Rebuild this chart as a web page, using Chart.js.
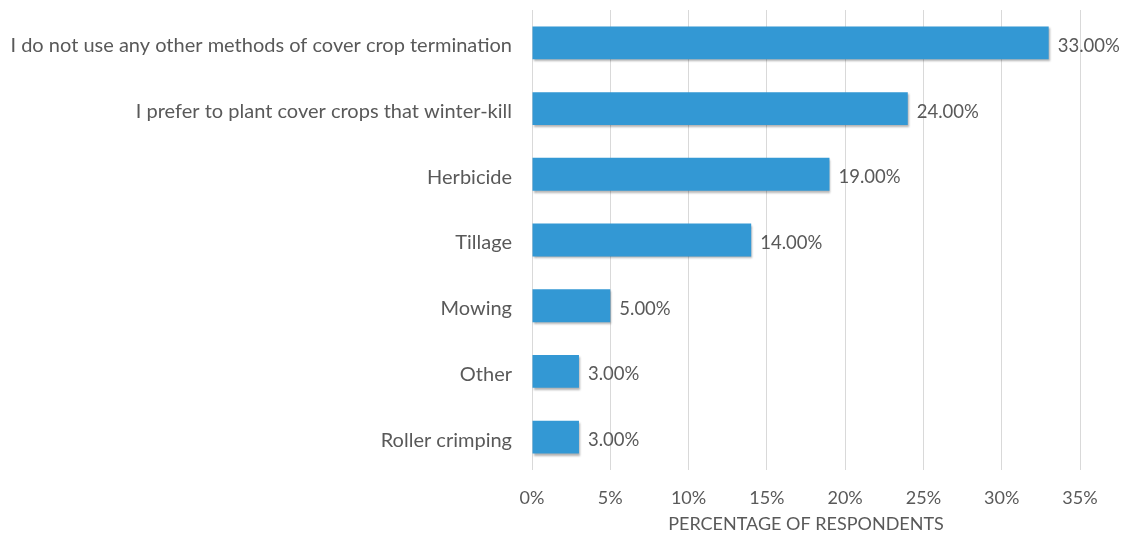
<!DOCTYPE html>
<html>
<head>
<meta charset="utf-8">
<script src="https://cdn.jsdelivr.net/npm/chart.js@4"></script>
<style>
  body { margin: 0; background: #fff; }
  #wrap { width: 1127px; height: 541px; }
</style>
</head>
<body>
<div id="wrap"><canvas id="myCanvas"></canvas></div>
<script>
let categories = [
    "I do not use any other methods of cover crop termination",
    "I prefer to plant cover crops that winter-kill",
    "Herbicide",
    "Tillage",
    "Mowing",
    "Other",
    "Roller crimping"
]
let values = [33, 24, 19, 14, 5, 3, 3]
let xTicks = [0, 5, 10, 15, 20, 25, 30, 35]

let textGray = "#595959"
let fontName = "Lato, 'Open Sans', sans-serif"

// bar shadow + value labels, no datalabels plugin offline
let barExtras = {
    id: "barExtras",
    beforeDatasetsDraw(chart) {
        let ctx = chart.ctx
        ctx.save()
        ctx.shadowColor = "rgba(0,0,0,0.3)"
        ctx.shadowBlur = 2
        ctx.shadowOffsetX = 1
        ctx.shadowOffsetY = 2
    },
    afterDatasetsDraw(chart) {
        let ctx = chart.ctx
        ctx.restore()
        ctx.save()
        ctx.fillStyle = textGray
        ctx.font = "18.5px " + fontName
        ctx.textAlign = "left"
        ctx.textBaseline = "middle"
        chart.getDatasetMeta(0).data.forEach((bar, i) => {
            ctx.fillText(values[i].toFixed(2) + "%", bar.x + 9, bar.y + 3)
        })
        ctx.restore()
    }
}

new Chart("myCanvas", {
    type: "bar",
    data: {
        labels: categories,
        datasets: [
            {
                data: values,
                backgroundColor: "#3398d4",
                barPercentage: 0.5,
                categoryPercentage: 1.0
            }
        ]
    },
    options: {
        indexAxis: "y",
        responsive: true,
        maintainAspectRatio: false,
        animation: false,
        layout: { padding: { top: 10, right: 47, bottom: 6, left: 0 } },
        plugins: {
            legend: { display: false },
            tooltip: { enabled: false }
        },
        scales: {
            x: {
                min: 0,
                max: 35,
                afterBuildTicks: (scale) => { scale.ticks = xTicks.map(v => ({ value: v })) },
                afterFit: (scale) => { scale.height = 65 },
                grid: { color: "#d9d9d9", drawTicks: false },
                border: { display: false },
                ticks: {
                    padding: 17,
                    color: textGray,
                    font: { family: fontName, size: 18 },
                    callback: (v) => v + "%"
                },
                title: {
                    display: true,
                    text: "PERCENTAGE OF RESPONDENTS",
                    color: textGray,
                    font: { family: fontName, size: 18 },
                    padding: { top: 4, bottom: 0 }
                }
            },
            y: {
                afterFit: (scale) => {
                    scale.width = 532
                    scale.paddingTop = 0
                    scale.paddingBottom = 0
                },
                grid: { display: false, drawTicks: false },
                border: { display: false },
                ticks: {
                    padding: 20,
                    labelOffset: 3,
                    color: textGray,
                    font: { family: fontName, size: 20 }
                }
            }
        }
    },
    plugins: [barExtras]
})
</script>
</body>
</html>
